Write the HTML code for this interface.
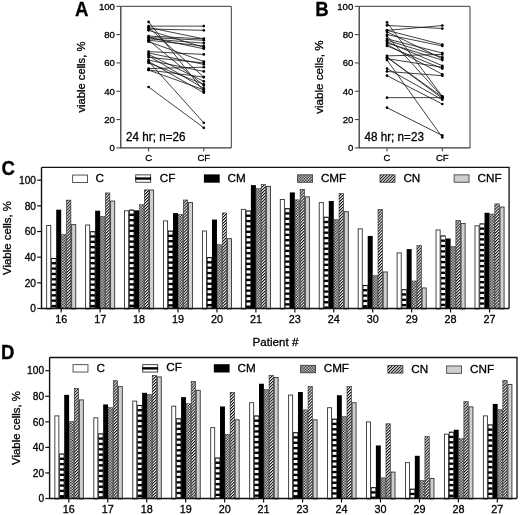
<!DOCTYPE html>
<html><head><meta charset="utf-8"><style>
html,body{margin:0;padding:0;background:#fff;}
body{width:520px;height:515px;overflow:hidden;filter:grayscale(1);font-family:"Liberation Sans", sans-serif;}
svg{display:block;}
text{stroke:#000;stroke-width:0.3px;}
</style></head><body>
<svg width="520" height="515" viewBox="0 0 520 515" font-family='"Liberation Sans", sans-serif' fill="#000">
<defs>
<pattern id="chk" patternUnits="userSpaceOnUse" width="2.7" height="2.7"><rect width="2.7" height="2.7" fill="#000"/><rect x="0" y="0" width="1.4" height="1.4" fill="#fff"/><rect x="1.35" y="1.35" width="1.4" height="1.4" fill="#fff"/></pattern>
<pattern id="hat" patternUnits="userSpaceOnUse" width="2.1" height="2.1" patternTransform="rotate(45)"><rect width="2.1" height="2.1" fill="#fff"/><rect width="1.0" height="2.1" fill="#000"/></pattern>
</defs>
<rect width="520" height="515" fill="#fff"/>
<path d="M120.8 6.3H231.3V147.9" fill="none" stroke="#3a3a3a" stroke-width="1"/>
<path d="M120.8 6.3V147.9H231.3" fill="none" stroke="#3a3a3a" stroke-width="1.3"/>
<line x1="116.4" y1="147.9" x2="120.8" y2="147.9" stroke="#3a3a3a" stroke-width="1"/>
<text x="114.9" y="151.2" text-anchor="end" font-size="9.6">0</text>
<line x1="116.4" y1="119.58" x2="120.8" y2="119.58" stroke="#3a3a3a" stroke-width="1"/>
<text x="114.9" y="122.88" text-anchor="end" font-size="9.6">20</text>
<line x1="116.4" y1="91.26" x2="120.8" y2="91.26" stroke="#3a3a3a" stroke-width="1"/>
<text x="114.9" y="94.56" text-anchor="end" font-size="9.6">40</text>
<line x1="116.4" y1="62.94" x2="120.8" y2="62.94" stroke="#3a3a3a" stroke-width="1"/>
<text x="114.9" y="66.24" text-anchor="end" font-size="9.6">60</text>
<line x1="116.4" y1="34.62" x2="120.8" y2="34.62" stroke="#3a3a3a" stroke-width="1"/>
<text x="114.9" y="37.92" text-anchor="end" font-size="9.6">80</text>
<line x1="116.4" y1="6.3" x2="120.8" y2="6.3" stroke="#3a3a3a" stroke-width="1"/>
<text x="114.9" y="9.6" text-anchor="end" font-size="9.6">100</text>
<line x1="148.6" y1="147.9" x2="148.6" y2="151.4" stroke="#3a3a3a" stroke-width="1"/>
<text x="148.6" y="160.9" text-anchor="middle" font-size="9.5">C</text>
<line x1="203.8" y1="147.9" x2="203.8" y2="151.4" stroke="#3a3a3a" stroke-width="1"/>
<text x="203.8" y="160.9" text-anchor="middle" font-size="9.5">CF</text>
<line x1="148.6" y1="21.88" x2="203.8" y2="91.26" stroke="#111" stroke-width="0.8"/>
<line x1="148.6" y1="26.12" x2="203.8" y2="26.12" stroke="#111" stroke-width="0.8"/>
<line x1="148.6" y1="27.54" x2="203.8" y2="38.87" stroke="#111" stroke-width="0.8"/>
<line x1="148.6" y1="28.96" x2="203.8" y2="30.37" stroke="#111" stroke-width="0.8"/>
<line x1="148.6" y1="30.37" x2="203.8" y2="47.36" stroke="#111" stroke-width="0.8"/>
<line x1="148.6" y1="27.54" x2="203.8" y2="77.1" stroke="#111" stroke-width="0.8"/>
<line x1="148.6" y1="36.04" x2="203.8" y2="38.87" stroke="#111" stroke-width="0.8"/>
<line x1="148.6" y1="37.45" x2="203.8" y2="40.28" stroke="#111" stroke-width="0.8"/>
<line x1="148.6" y1="38.87" x2="203.8" y2="43.12" stroke="#111" stroke-width="0.8"/>
<line x1="148.6" y1="40.28" x2="203.8" y2="45.95" stroke="#111" stroke-width="0.8"/>
<line x1="148.6" y1="40.28" x2="203.8" y2="85.6" stroke="#111" stroke-width="0.8"/>
<line x1="148.6" y1="41.7" x2="203.8" y2="61.52" stroke="#111" stroke-width="0.8"/>
<line x1="148.6" y1="51.61" x2="203.8" y2="54.44" stroke="#111" stroke-width="0.8"/>
<line x1="148.6" y1="53.03" x2="203.8" y2="64.36" stroke="#111" stroke-width="0.8"/>
<line x1="148.6" y1="54.44" x2="203.8" y2="81.35" stroke="#111" stroke-width="0.8"/>
<line x1="148.6" y1="55.86" x2="203.8" y2="88.43" stroke="#111" stroke-width="0.8"/>
<line x1="148.6" y1="57.28" x2="203.8" y2="62.94" stroke="#111" stroke-width="0.8"/>
<line x1="148.6" y1="60.11" x2="203.8" y2="71.44" stroke="#111" stroke-width="0.8"/>
<line x1="148.6" y1="61.52" x2="203.8" y2="92.68" stroke="#111" stroke-width="0.8"/>
<line x1="148.6" y1="61.52" x2="203.8" y2="122.84" stroke="#111" stroke-width="0.8"/>
<line x1="148.6" y1="62.94" x2="203.8" y2="84.18" stroke="#111" stroke-width="0.8"/>
<line x1="148.6" y1="68.6" x2="203.8" y2="67.19" stroke="#111" stroke-width="0.8"/>
<line x1="148.6" y1="70.02" x2="203.8" y2="89.84" stroke="#111" stroke-width="0.8"/>
<line x1="148.6" y1="70.02" x2="203.8" y2="77.1" stroke="#111" stroke-width="0.8"/>
<line x1="148.6" y1="87.01" x2="203.8" y2="127.79" stroke="#111" stroke-width="0.8"/>
<line x1="148.6" y1="37.45" x2="203.8" y2="48.78" stroke="#111" stroke-width="0.8"/>
<circle cx="148.6" cy="21.88" r="1.35" fill="#000"/>
<circle cx="203.8" cy="91.26" r="1.35" fill="#000"/>
<circle cx="148.6" cy="26.12" r="1.35" fill="#000"/>
<circle cx="203.8" cy="26.12" r="1.35" fill="#000"/>
<circle cx="148.6" cy="27.54" r="1.35" fill="#000"/>
<circle cx="203.8" cy="38.87" r="1.35" fill="#000"/>
<circle cx="148.6" cy="28.96" r="1.35" fill="#000"/>
<circle cx="203.8" cy="30.37" r="1.35" fill="#000"/>
<circle cx="148.6" cy="30.37" r="1.35" fill="#000"/>
<circle cx="203.8" cy="47.36" r="1.35" fill="#000"/>
<circle cx="148.6" cy="27.54" r="1.35" fill="#000"/>
<circle cx="203.8" cy="77.1" r="1.35" fill="#000"/>
<circle cx="148.6" cy="36.04" r="1.35" fill="#000"/>
<circle cx="203.8" cy="38.87" r="1.35" fill="#000"/>
<circle cx="148.6" cy="37.45" r="1.35" fill="#000"/>
<circle cx="203.8" cy="40.28" r="1.35" fill="#000"/>
<circle cx="148.6" cy="38.87" r="1.35" fill="#000"/>
<circle cx="203.8" cy="43.12" r="1.35" fill="#000"/>
<circle cx="148.6" cy="40.28" r="1.35" fill="#000"/>
<circle cx="203.8" cy="45.95" r="1.35" fill="#000"/>
<circle cx="148.6" cy="40.28" r="1.35" fill="#000"/>
<circle cx="203.8" cy="85.6" r="1.35" fill="#000"/>
<circle cx="148.6" cy="41.7" r="1.35" fill="#000"/>
<circle cx="203.8" cy="61.52" r="1.35" fill="#000"/>
<circle cx="148.6" cy="51.61" r="1.35" fill="#000"/>
<circle cx="203.8" cy="54.44" r="1.35" fill="#000"/>
<circle cx="148.6" cy="53.03" r="1.35" fill="#000"/>
<circle cx="203.8" cy="64.36" r="1.35" fill="#000"/>
<circle cx="148.6" cy="54.44" r="1.35" fill="#000"/>
<circle cx="203.8" cy="81.35" r="1.35" fill="#000"/>
<circle cx="148.6" cy="55.86" r="1.35" fill="#000"/>
<circle cx="203.8" cy="88.43" r="1.35" fill="#000"/>
<circle cx="148.6" cy="57.28" r="1.35" fill="#000"/>
<circle cx="203.8" cy="62.94" r="1.35" fill="#000"/>
<circle cx="148.6" cy="60.11" r="1.35" fill="#000"/>
<circle cx="203.8" cy="71.44" r="1.35" fill="#000"/>
<circle cx="148.6" cy="61.52" r="1.35" fill="#000"/>
<circle cx="203.8" cy="92.68" r="1.35" fill="#000"/>
<circle cx="148.6" cy="61.52" r="1.35" fill="#000"/>
<circle cx="203.8" cy="122.84" r="1.35" fill="#000"/>
<circle cx="148.6" cy="62.94" r="1.35" fill="#000"/>
<circle cx="203.8" cy="84.18" r="1.35" fill="#000"/>
<circle cx="148.6" cy="68.6" r="1.35" fill="#000"/>
<circle cx="203.8" cy="67.19" r="1.35" fill="#000"/>
<circle cx="148.6" cy="70.02" r="1.35" fill="#000"/>
<circle cx="203.8" cy="89.84" r="1.35" fill="#000"/>
<circle cx="148.6" cy="70.02" r="1.35" fill="#000"/>
<circle cx="203.8" cy="77.1" r="1.35" fill="#000"/>
<circle cx="148.6" cy="87.01" r="1.35" fill="#000"/>
<circle cx="203.8" cy="127.79" r="1.35" fill="#000"/>
<circle cx="148.6" cy="37.45" r="1.35" fill="#000"/>
<circle cx="203.8" cy="48.78" r="1.35" fill="#000"/>
<text transform="translate(126.1 140.9) scale(0.95 1)" font-size="12.3">24 hr; n=26</text>
<text transform="translate(85.4 77.1) rotate(-90)" text-anchor="middle" font-size="11.2">viable cells, %</text>
<text transform="translate(75.1 16.4) scale(0.93 1)" font-size="20" font-weight="bold">A</text>
<path d="M359.2 6.3H470V147.9" fill="none" stroke="#3a3a3a" stroke-width="1"/>
<path d="M359.2 6.3V147.9H470" fill="none" stroke="#3a3a3a" stroke-width="1.3"/>
<line x1="354.8" y1="147.9" x2="359.2" y2="147.9" stroke="#3a3a3a" stroke-width="1"/>
<text x="353.3" y="151.2" text-anchor="end" font-size="9.6">0</text>
<line x1="354.8" y1="119.58" x2="359.2" y2="119.58" stroke="#3a3a3a" stroke-width="1"/>
<text x="353.3" y="122.88" text-anchor="end" font-size="9.6">20</text>
<line x1="354.8" y1="91.26" x2="359.2" y2="91.26" stroke="#3a3a3a" stroke-width="1"/>
<text x="353.3" y="94.56" text-anchor="end" font-size="9.6">40</text>
<line x1="354.8" y1="62.94" x2="359.2" y2="62.94" stroke="#3a3a3a" stroke-width="1"/>
<text x="353.3" y="66.24" text-anchor="end" font-size="9.6">60</text>
<line x1="354.8" y1="34.62" x2="359.2" y2="34.62" stroke="#3a3a3a" stroke-width="1"/>
<text x="353.3" y="37.92" text-anchor="end" font-size="9.6">80</text>
<line x1="354.8" y1="6.3" x2="359.2" y2="6.3" stroke="#3a3a3a" stroke-width="1"/>
<text x="353.3" y="9.6" text-anchor="end" font-size="9.6">100</text>
<line x1="387" y1="147.9" x2="387" y2="151.4" stroke="#3a3a3a" stroke-width="1"/>
<text x="387" y="160.9" text-anchor="middle" font-size="9.5">C</text>
<line x1="442.3" y1="147.9" x2="442.3" y2="151.4" stroke="#3a3a3a" stroke-width="1"/>
<text x="442.3" y="160.9" text-anchor="middle" font-size="9.5">CF</text>
<line x1="387" y1="22.44" x2="442.3" y2="96.36" stroke="#111" stroke-width="0.8"/>
<line x1="387" y1="25.42" x2="442.3" y2="28.53" stroke="#111" stroke-width="0.8"/>
<line x1="387" y1="30.37" x2="442.3" y2="25.56" stroke="#111" stroke-width="0.8"/>
<line x1="387" y1="30.37" x2="442.3" y2="44.53" stroke="#111" stroke-width="0.8"/>
<line x1="387" y1="31.79" x2="442.3" y2="58.69" stroke="#111" stroke-width="0.8"/>
<line x1="387" y1="34.62" x2="442.3" y2="45.95" stroke="#111" stroke-width="0.8"/>
<line x1="387" y1="36.04" x2="442.3" y2="96.92" stroke="#111" stroke-width="0.8"/>
<line x1="387" y1="38.87" x2="442.3" y2="53.03" stroke="#111" stroke-width="0.8"/>
<line x1="387" y1="40.28" x2="442.3" y2="57.28" stroke="#111" stroke-width="0.8"/>
<line x1="387" y1="41.7" x2="442.3" y2="65.77" stroke="#111" stroke-width="0.8"/>
<line x1="387" y1="43.12" x2="442.3" y2="60.11" stroke="#111" stroke-width="0.8"/>
<line x1="387" y1="44.53" x2="442.3" y2="74.27" stroke="#111" stroke-width="0.8"/>
<line x1="387" y1="45.95" x2="442.3" y2="68.6" stroke="#111" stroke-width="0.8"/>
<line x1="387" y1="55.86" x2="442.3" y2="54.44" stroke="#111" stroke-width="0.8"/>
<line x1="387" y1="57.28" x2="442.3" y2="96.92" stroke="#111" stroke-width="0.8"/>
<line x1="387" y1="57.28" x2="442.3" y2="98.34" stroke="#111" stroke-width="0.8"/>
<line x1="387" y1="58.69" x2="442.3" y2="67.19" stroke="#111" stroke-width="0.8"/>
<line x1="387" y1="60.11" x2="442.3" y2="137.28" stroke="#111" stroke-width="0.8"/>
<line x1="387" y1="68.6" x2="442.3" y2="99.76" stroke="#111" stroke-width="0.8"/>
<line x1="387" y1="71.44" x2="442.3" y2="75.68" stroke="#111" stroke-width="0.8"/>
<line x1="387" y1="75.68" x2="442.3" y2="104" stroke="#111" stroke-width="0.8"/>
<line x1="387" y1="97.63" x2="442.3" y2="97.63" stroke="#111" stroke-width="0.8"/>
<line x1="387" y1="107.69" x2="442.3" y2="135.44" stroke="#111" stroke-width="0.8"/>
<circle cx="387" cy="22.44" r="1.35" fill="#000"/>
<circle cx="442.3" cy="96.36" r="1.35" fill="#000"/>
<circle cx="387" cy="25.42" r="1.35" fill="#000"/>
<circle cx="442.3" cy="28.53" r="1.35" fill="#000"/>
<circle cx="387" cy="30.37" r="1.35" fill="#000"/>
<circle cx="442.3" cy="25.56" r="1.35" fill="#000"/>
<circle cx="387" cy="30.37" r="1.35" fill="#000"/>
<circle cx="442.3" cy="44.53" r="1.35" fill="#000"/>
<circle cx="387" cy="31.79" r="1.35" fill="#000"/>
<circle cx="442.3" cy="58.69" r="1.35" fill="#000"/>
<circle cx="387" cy="34.62" r="1.35" fill="#000"/>
<circle cx="442.3" cy="45.95" r="1.35" fill="#000"/>
<circle cx="387" cy="36.04" r="1.35" fill="#000"/>
<circle cx="442.3" cy="96.92" r="1.35" fill="#000"/>
<circle cx="387" cy="38.87" r="1.35" fill="#000"/>
<circle cx="442.3" cy="53.03" r="1.35" fill="#000"/>
<circle cx="387" cy="40.28" r="1.35" fill="#000"/>
<circle cx="442.3" cy="57.28" r="1.35" fill="#000"/>
<circle cx="387" cy="41.7" r="1.35" fill="#000"/>
<circle cx="442.3" cy="65.77" r="1.35" fill="#000"/>
<circle cx="387" cy="43.12" r="1.35" fill="#000"/>
<circle cx="442.3" cy="60.11" r="1.35" fill="#000"/>
<circle cx="387" cy="44.53" r="1.35" fill="#000"/>
<circle cx="442.3" cy="74.27" r="1.35" fill="#000"/>
<circle cx="387" cy="45.95" r="1.35" fill="#000"/>
<circle cx="442.3" cy="68.6" r="1.35" fill="#000"/>
<circle cx="387" cy="55.86" r="1.35" fill="#000"/>
<circle cx="442.3" cy="54.44" r="1.35" fill="#000"/>
<circle cx="387" cy="57.28" r="1.35" fill="#000"/>
<circle cx="442.3" cy="96.92" r="1.35" fill="#000"/>
<circle cx="387" cy="57.28" r="1.35" fill="#000"/>
<circle cx="442.3" cy="98.34" r="1.35" fill="#000"/>
<circle cx="387" cy="58.69" r="1.35" fill="#000"/>
<circle cx="442.3" cy="67.19" r="1.35" fill="#000"/>
<circle cx="387" cy="60.11" r="1.35" fill="#000"/>
<circle cx="442.3" cy="137.28" r="1.35" fill="#000"/>
<circle cx="387" cy="68.6" r="1.35" fill="#000"/>
<circle cx="442.3" cy="99.76" r="1.35" fill="#000"/>
<circle cx="387" cy="71.44" r="1.35" fill="#000"/>
<circle cx="442.3" cy="75.68" r="1.35" fill="#000"/>
<circle cx="387" cy="75.68" r="1.35" fill="#000"/>
<circle cx="442.3" cy="104" r="1.35" fill="#000"/>
<circle cx="387" cy="97.63" r="1.35" fill="#000"/>
<circle cx="442.3" cy="97.63" r="1.35" fill="#000"/>
<circle cx="387" cy="107.69" r="1.35" fill="#000"/>
<circle cx="442.3" cy="135.44" r="1.35" fill="#000"/>
<text transform="translate(364.5 140.9) scale(0.95 1)" font-size="12.3">48 hr; n=23</text>
<text transform="translate(323.4 77.1) rotate(-90)" text-anchor="middle" font-size="11.6">viable cells, %</text>
<text transform="translate(315.3 15.9) scale(0.93 1)" font-size="20" font-weight="bold">B</text>
<rect x="46.65" y="225.51" width="4.1" height="83.44" fill="#fff" stroke="#333" stroke-width="0.9"/>
<rect x="51.2" y="257.95" width="5" height="50.55" fill="#000"/>
<rect x="51.85" y="259.05" width="3.85" height="3" fill="#fff"/>
<rect x="51.85" y="264.4" width="3.85" height="3" fill="#fff"/>
<rect x="51.85" y="269.75" width="3.85" height="3" fill="#fff"/>
<rect x="51.85" y="275.1" width="3.85" height="3" fill="#fff"/>
<rect x="51.85" y="280.45" width="3.85" height="3" fill="#fff"/>
<rect x="51.85" y="285.8" width="3.85" height="3" fill="#fff"/>
<rect x="51.85" y="291.15" width="3.85" height="3" fill="#fff"/>
<rect x="51.85" y="296.5" width="3.85" height="3" fill="#fff"/>
<rect x="51.85" y="301.85" width="3.85" height="3" fill="#fff"/>
<rect x="51.85" y="307.2" width="3.85" height="0.5" fill="#fff"/>
<rect x="56.2" y="209.7" width="5" height="98.8" fill="#000"/>
<rect x="61.45" y="234.52" width="4.5" height="74.23" fill="url(#chk)" stroke="#333" stroke-width="0.5"/>
<rect x="66.5" y="200.14" width="4.4" height="108.66" fill="url(#hat)" stroke="#222" stroke-width="0.6"/>
<rect x="71.65" y="224.61" width="4.1" height="84.34" fill="#cfcfcf" stroke="#333" stroke-width="0.9"/>
<rect x="85.59" y="224.99" width="4.1" height="83.96" fill="#fff" stroke="#333" stroke-width="0.9"/>
<rect x="90.14" y="231.2" width="5" height="77.3" fill="#000"/>
<rect x="90.79" y="232.3" width="3.85" height="3" fill="#fff"/>
<rect x="90.79" y="237.65" width="3.85" height="3" fill="#fff"/>
<rect x="90.79" y="243" width="3.85" height="3" fill="#fff"/>
<rect x="90.79" y="248.35" width="3.85" height="3" fill="#fff"/>
<rect x="90.79" y="253.7" width="3.85" height="3" fill="#fff"/>
<rect x="90.79" y="259.05" width="3.85" height="3" fill="#fff"/>
<rect x="90.79" y="264.4" width="3.85" height="3" fill="#fff"/>
<rect x="90.79" y="269.75" width="3.85" height="3" fill="#fff"/>
<rect x="90.79" y="275.1" width="3.85" height="3" fill="#fff"/>
<rect x="90.79" y="280.45" width="3.85" height="3" fill="#fff"/>
<rect x="90.79" y="285.8" width="3.85" height="3" fill="#fff"/>
<rect x="90.79" y="291.15" width="3.85" height="3" fill="#fff"/>
<rect x="90.79" y="296.5" width="3.85" height="3" fill="#fff"/>
<rect x="90.79" y="301.85" width="3.85" height="3" fill="#fff"/>
<rect x="90.79" y="307.2" width="3.85" height="0.5" fill="#fff"/>
<rect x="95.14" y="210.72" width="5" height="97.78" fill="#000"/>
<rect x="100.39" y="216.35" width="4.5" height="92.4" fill="url(#chk)" stroke="#333" stroke-width="0.5"/>
<rect x="105.44" y="192.97" width="4.4" height="115.83" fill="url(#hat)" stroke="#222" stroke-width="0.6"/>
<rect x="110.59" y="201.06" width="4.1" height="107.89" fill="#cfcfcf" stroke="#333" stroke-width="0.9"/>
<rect x="124.53" y="210.79" width="4.1" height="98.16" fill="#fff" stroke="#333" stroke-width="0.9"/>
<rect x="129.08" y="209.57" width="5" height="98.93" fill="#000"/>
<rect x="129.73" y="210.67" width="3.85" height="3" fill="#fff"/>
<rect x="129.73" y="216.02" width="3.85" height="3" fill="#fff"/>
<rect x="129.73" y="221.37" width="3.85" height="3" fill="#fff"/>
<rect x="129.73" y="226.72" width="3.85" height="3" fill="#fff"/>
<rect x="129.73" y="232.07" width="3.85" height="3" fill="#fff"/>
<rect x="129.73" y="237.42" width="3.85" height="3" fill="#fff"/>
<rect x="129.73" y="242.77" width="3.85" height="3" fill="#fff"/>
<rect x="129.73" y="248.12" width="3.85" height="3" fill="#fff"/>
<rect x="129.73" y="253.47" width="3.85" height="3" fill="#fff"/>
<rect x="129.73" y="258.82" width="3.85" height="3" fill="#fff"/>
<rect x="129.73" y="264.17" width="3.85" height="3" fill="#fff"/>
<rect x="129.73" y="269.52" width="3.85" height="3" fill="#fff"/>
<rect x="129.73" y="274.87" width="3.85" height="3" fill="#fff"/>
<rect x="129.73" y="280.22" width="3.85" height="3" fill="#fff"/>
<rect x="129.73" y="285.57" width="3.85" height="3" fill="#fff"/>
<rect x="129.73" y="290.92" width="3.85" height="3" fill="#fff"/>
<rect x="129.73" y="296.27" width="3.85" height="3" fill="#fff"/>
<rect x="129.73" y="301.62" width="3.85" height="3" fill="#fff"/>
<rect x="129.73" y="306.97" width="3.85" height="0.73" fill="#fff"/>
<rect x="134.08" y="210.34" width="5" height="98.16" fill="#000"/>
<rect x="139.33" y="204.7" width="4.5" height="104.05" fill="url(#chk)" stroke="#333" stroke-width="0.5"/>
<rect x="144.38" y="189.9" width="4.4" height="118.9" fill="url(#hat)" stroke="#222" stroke-width="0.6"/>
<rect x="149.53" y="190.05" width="4.1" height="118.9" fill="#cfcfcf" stroke="#333" stroke-width="0.9"/>
<rect x="163.47" y="220.9" width="4.1" height="88.05" fill="#fff" stroke="#333" stroke-width="0.9"/>
<rect x="168.02" y="230.56" width="5" height="77.94" fill="#000"/>
<rect x="168.67" y="231.66" width="3.85" height="3" fill="#fff"/>
<rect x="168.67" y="237.01" width="3.85" height="3" fill="#fff"/>
<rect x="168.67" y="242.36" width="3.85" height="3" fill="#fff"/>
<rect x="168.67" y="247.71" width="3.85" height="3" fill="#fff"/>
<rect x="168.67" y="253.06" width="3.85" height="3" fill="#fff"/>
<rect x="168.67" y="258.41" width="3.85" height="3" fill="#fff"/>
<rect x="168.67" y="263.76" width="3.85" height="3" fill="#fff"/>
<rect x="168.67" y="269.11" width="3.85" height="3" fill="#fff"/>
<rect x="168.67" y="274.46" width="3.85" height="3" fill="#fff"/>
<rect x="168.67" y="279.81" width="3.85" height="3" fill="#fff"/>
<rect x="168.67" y="285.16" width="3.85" height="3" fill="#fff"/>
<rect x="168.67" y="290.51" width="3.85" height="3" fill="#fff"/>
<rect x="168.67" y="295.86" width="3.85" height="3" fill="#fff"/>
<rect x="168.67" y="301.21" width="3.85" height="3" fill="#fff"/>
<rect x="168.67" y="306.56" width="3.85" height="1.14" fill="#fff"/>
<rect x="173.02" y="213.15" width="5" height="95.35" fill="#000"/>
<rect x="178.27" y="214.43" width="4.5" height="94.32" fill="url(#chk)" stroke="#333" stroke-width="0.5"/>
<rect x="183.32" y="200.01" width="4.4" height="108.79" fill="url(#hat)" stroke="#222" stroke-width="0.6"/>
<rect x="188.47" y="202.59" width="4.1" height="106.36" fill="#cfcfcf" stroke="#333" stroke-width="0.9"/>
<rect x="202.41" y="231.01" width="4.1" height="77.94" fill="#fff" stroke="#333" stroke-width="0.9"/>
<rect x="206.96" y="257.06" width="5" height="51.44" fill="#000"/>
<rect x="207.61" y="258.16" width="3.85" height="3" fill="#fff"/>
<rect x="207.61" y="263.51" width="3.85" height="3" fill="#fff"/>
<rect x="207.61" y="268.86" width="3.85" height="3" fill="#fff"/>
<rect x="207.61" y="274.21" width="3.85" height="3" fill="#fff"/>
<rect x="207.61" y="279.56" width="3.85" height="3" fill="#fff"/>
<rect x="207.61" y="284.91" width="3.85" height="3" fill="#fff"/>
<rect x="207.61" y="290.26" width="3.85" height="3" fill="#fff"/>
<rect x="207.61" y="295.61" width="3.85" height="3" fill="#fff"/>
<rect x="207.61" y="300.96" width="3.85" height="3" fill="#fff"/>
<rect x="207.61" y="306.31" width="3.85" height="1.39" fill="#fff"/>
<rect x="211.96" y="219.55" width="5" height="88.95" fill="#000"/>
<rect x="217.21" y="244.51" width="4.5" height="64.24" fill="url(#chk)" stroke="#333" stroke-width="0.5"/>
<rect x="222.26" y="212.94" width="4.4" height="95.86" fill="url(#hat)" stroke="#222" stroke-width="0.6"/>
<rect x="227.41" y="238.69" width="4.1" height="70.26" fill="#cfcfcf" stroke="#333" stroke-width="0.9"/>
<rect x="241.35" y="209.38" width="4.1" height="99.57" fill="#fff" stroke="#333" stroke-width="0.9"/>
<rect x="245.9" y="210.46" width="5" height="98.04" fill="#000"/>
<rect x="246.55" y="211.56" width="3.85" height="3" fill="#fff"/>
<rect x="246.55" y="216.91" width="3.85" height="3" fill="#fff"/>
<rect x="246.55" y="222.26" width="3.85" height="3" fill="#fff"/>
<rect x="246.55" y="227.61" width="3.85" height="3" fill="#fff"/>
<rect x="246.55" y="232.96" width="3.85" height="3" fill="#fff"/>
<rect x="246.55" y="238.31" width="3.85" height="3" fill="#fff"/>
<rect x="246.55" y="243.66" width="3.85" height="3" fill="#fff"/>
<rect x="246.55" y="249.01" width="3.85" height="3" fill="#fff"/>
<rect x="246.55" y="254.36" width="3.85" height="3" fill="#fff"/>
<rect x="246.55" y="259.71" width="3.85" height="3" fill="#fff"/>
<rect x="246.55" y="265.06" width="3.85" height="3" fill="#fff"/>
<rect x="246.55" y="270.41" width="3.85" height="3" fill="#fff"/>
<rect x="246.55" y="275.76" width="3.85" height="3" fill="#fff"/>
<rect x="246.55" y="281.11" width="3.85" height="3" fill="#fff"/>
<rect x="246.55" y="286.46" width="3.85" height="3" fill="#fff"/>
<rect x="246.55" y="291.81" width="3.85" height="3" fill="#fff"/>
<rect x="246.55" y="297.16" width="3.85" height="3" fill="#fff"/>
<rect x="246.55" y="302.51" width="3.85" height="3" fill="#fff"/>
<rect x="250.9" y="185.12" width="5" height="123.38" fill="#000"/>
<rect x="256.15" y="188.44" width="4.5" height="120.31" fill="url(#chk)" stroke="#333" stroke-width="0.5"/>
<rect x="261.2" y="184.65" width="4.4" height="124.15" fill="url(#hat)" stroke="#222" stroke-width="0.6"/>
<rect x="266.35" y="186.34" width="4.1" height="122.61" fill="#cfcfcf" stroke="#333" stroke-width="0.9"/>
<rect x="280.29" y="199.52" width="4.1" height="109.43" fill="#fff" stroke="#333" stroke-width="0.9"/>
<rect x="284.84" y="208.16" width="5" height="100.34" fill="#000"/>
<rect x="285.49" y="209.26" width="3.85" height="3" fill="#fff"/>
<rect x="285.49" y="214.61" width="3.85" height="3" fill="#fff"/>
<rect x="285.49" y="219.96" width="3.85" height="3" fill="#fff"/>
<rect x="285.49" y="225.31" width="3.85" height="3" fill="#fff"/>
<rect x="285.49" y="230.66" width="3.85" height="3" fill="#fff"/>
<rect x="285.49" y="236.01" width="3.85" height="3" fill="#fff"/>
<rect x="285.49" y="241.36" width="3.85" height="3" fill="#fff"/>
<rect x="285.49" y="246.71" width="3.85" height="3" fill="#fff"/>
<rect x="285.49" y="252.06" width="3.85" height="3" fill="#fff"/>
<rect x="285.49" y="257.41" width="3.85" height="3" fill="#fff"/>
<rect x="285.49" y="262.76" width="3.85" height="3" fill="#fff"/>
<rect x="285.49" y="268.11" width="3.85" height="3" fill="#fff"/>
<rect x="285.49" y="273.46" width="3.85" height="3" fill="#fff"/>
<rect x="285.49" y="278.81" width="3.85" height="3" fill="#fff"/>
<rect x="285.49" y="284.16" width="3.85" height="3" fill="#fff"/>
<rect x="285.49" y="289.51" width="3.85" height="3" fill="#fff"/>
<rect x="285.49" y="294.86" width="3.85" height="3" fill="#fff"/>
<rect x="285.49" y="300.21" width="3.85" height="3" fill="#fff"/>
<rect x="285.49" y="305.56" width="3.85" height="2.14" fill="#fff"/>
<rect x="289.84" y="192.42" width="5" height="116.08" fill="#000"/>
<rect x="295.09" y="199.83" width="4.5" height="108.92" fill="url(#chk)" stroke="#333" stroke-width="0.5"/>
<rect x="300.14" y="189.26" width="4.4" height="119.54" fill="url(#hat)" stroke="#222" stroke-width="0.6"/>
<rect x="305.29" y="196.83" width="4.1" height="112.12" fill="#cfcfcf" stroke="#333" stroke-width="0.9"/>
<rect x="319.23" y="202.59" width="4.1" height="106.36" fill="#fff" stroke="#333" stroke-width="0.9"/>
<rect x="323.78" y="216.74" width="5" height="91.76" fill="#000"/>
<rect x="324.43" y="217.84" width="3.85" height="3" fill="#fff"/>
<rect x="324.43" y="223.19" width="3.85" height="3" fill="#fff"/>
<rect x="324.43" y="228.54" width="3.85" height="3" fill="#fff"/>
<rect x="324.43" y="233.89" width="3.85" height="3" fill="#fff"/>
<rect x="324.43" y="239.24" width="3.85" height="3" fill="#fff"/>
<rect x="324.43" y="244.59" width="3.85" height="3" fill="#fff"/>
<rect x="324.43" y="249.94" width="3.85" height="3" fill="#fff"/>
<rect x="324.43" y="255.29" width="3.85" height="3" fill="#fff"/>
<rect x="324.43" y="260.64" width="3.85" height="3" fill="#fff"/>
<rect x="324.43" y="265.99" width="3.85" height="3" fill="#fff"/>
<rect x="324.43" y="271.34" width="3.85" height="3" fill="#fff"/>
<rect x="324.43" y="276.69" width="3.85" height="3" fill="#fff"/>
<rect x="324.43" y="282.04" width="3.85" height="3" fill="#fff"/>
<rect x="324.43" y="287.39" width="3.85" height="3" fill="#fff"/>
<rect x="324.43" y="292.74" width="3.85" height="3" fill="#fff"/>
<rect x="324.43" y="298.09" width="3.85" height="3" fill="#fff"/>
<rect x="324.43" y="303.44" width="3.85" height="3" fill="#fff"/>
<rect x="328.78" y="200.99" width="5" height="107.51" fill="#000"/>
<rect x="334.03" y="219.55" width="4.5" height="89.2" fill="url(#chk)" stroke="#333" stroke-width="0.5"/>
<rect x="339.08" y="193.61" width="4.4" height="115.19" fill="url(#hat)" stroke="#222" stroke-width="0.6"/>
<rect x="344.23" y="211.68" width="4.1" height="97.27" fill="#cfcfcf" stroke="#333" stroke-width="0.9"/>
<rect x="358.17" y="228.83" width="4.1" height="80.12" fill="#fff" stroke="#333" stroke-width="0.9"/>
<rect x="362.72" y="284.96" width="5" height="23.54" fill="#000"/>
<rect x="363.37" y="286.06" width="3.85" height="3" fill="#fff"/>
<rect x="363.37" y="291.41" width="3.85" height="3" fill="#fff"/>
<rect x="363.37" y="296.76" width="3.85" height="3" fill="#fff"/>
<rect x="363.37" y="302.11" width="3.85" height="3" fill="#fff"/>
<rect x="367.72" y="235.94" width="5" height="72.56" fill="#000"/>
<rect x="372.97" y="275.61" width="4.5" height="33.14" fill="url(#chk)" stroke="#333" stroke-width="0.5"/>
<rect x="378.02" y="209.36" width="4.4" height="99.44" fill="url(#hat)" stroke="#222" stroke-width="0.6"/>
<rect x="383.17" y="271.97" width="4.1" height="36.98" fill="#cfcfcf" stroke="#333" stroke-width="0.9"/>
<rect x="397.11" y="252.9" width="4.1" height="56.05" fill="#fff" stroke="#333" stroke-width="0.9"/>
<rect x="401.66" y="289.18" width="5" height="19.32" fill="#000"/>
<rect x="402.31" y="290.28" width="3.85" height="3" fill="#fff"/>
<rect x="402.31" y="295.63" width="3.85" height="3" fill="#fff"/>
<rect x="402.31" y="300.98" width="3.85" height="3" fill="#fff"/>
<rect x="402.31" y="306.33" width="3.85" height="1.37" fill="#fff"/>
<rect x="406.66" y="249.12" width="5" height="59.38" fill="#000"/>
<rect x="411.91" y="280.99" width="4.5" height="27.76" fill="url(#chk)" stroke="#333" stroke-width="0.5"/>
<rect x="416.96" y="245.58" width="4.4" height="63.22" fill="url(#hat)" stroke="#222" stroke-width="0.6"/>
<rect x="422.11" y="287.97" width="4.1" height="20.98" fill="#cfcfcf" stroke="#333" stroke-width="0.9"/>
<rect x="436.05" y="229.99" width="4.1" height="78.96" fill="#fff" stroke="#333" stroke-width="0.9"/>
<rect x="440.6" y="235.42" width="5" height="73.08" fill="#000"/>
<rect x="441.25" y="236.52" width="3.85" height="3" fill="#fff"/>
<rect x="441.25" y="241.87" width="3.85" height="3" fill="#fff"/>
<rect x="441.25" y="247.22" width="3.85" height="3" fill="#fff"/>
<rect x="441.25" y="252.57" width="3.85" height="3" fill="#fff"/>
<rect x="441.25" y="257.92" width="3.85" height="3" fill="#fff"/>
<rect x="441.25" y="263.27" width="3.85" height="3" fill="#fff"/>
<rect x="441.25" y="268.62" width="3.85" height="3" fill="#fff"/>
<rect x="441.25" y="273.97" width="3.85" height="3" fill="#fff"/>
<rect x="441.25" y="279.32" width="3.85" height="3" fill="#fff"/>
<rect x="441.25" y="284.67" width="3.85" height="3" fill="#fff"/>
<rect x="441.25" y="290.02" width="3.85" height="3" fill="#fff"/>
<rect x="441.25" y="295.37" width="3.85" height="3" fill="#fff"/>
<rect x="441.25" y="300.72" width="3.85" height="3" fill="#fff"/>
<rect x="441.25" y="306.07" width="3.85" height="1.63" fill="#fff"/>
<rect x="445.6" y="238.5" width="5" height="70" fill="#000"/>
<rect x="450.85" y="246.3" width="4.5" height="62.45" fill="url(#chk)" stroke="#333" stroke-width="0.5"/>
<rect x="455.9" y="220.62" width="4.4" height="88.18" fill="url(#hat)" stroke="#222" stroke-width="0.6"/>
<rect x="461.05" y="223.46" width="4.1" height="85.49" fill="#cfcfcf" stroke="#333" stroke-width="0.9"/>
<rect x="474.99" y="225.76" width="4.1" height="83.19" fill="#fff" stroke="#333" stroke-width="0.9"/>
<rect x="479.54" y="223.39" width="5" height="85.11" fill="#000"/>
<rect x="480.19" y="224.49" width="3.85" height="3" fill="#fff"/>
<rect x="480.19" y="229.84" width="3.85" height="3" fill="#fff"/>
<rect x="480.19" y="235.19" width="3.85" height="3" fill="#fff"/>
<rect x="480.19" y="240.54" width="3.85" height="3" fill="#fff"/>
<rect x="480.19" y="245.89" width="3.85" height="3" fill="#fff"/>
<rect x="480.19" y="251.24" width="3.85" height="3" fill="#fff"/>
<rect x="480.19" y="256.59" width="3.85" height="3" fill="#fff"/>
<rect x="480.19" y="261.94" width="3.85" height="3" fill="#fff"/>
<rect x="480.19" y="267.29" width="3.85" height="3" fill="#fff"/>
<rect x="480.19" y="272.64" width="3.85" height="3" fill="#fff"/>
<rect x="480.19" y="277.99" width="3.85" height="3" fill="#fff"/>
<rect x="480.19" y="283.34" width="3.85" height="3" fill="#fff"/>
<rect x="480.19" y="288.69" width="3.85" height="3" fill="#fff"/>
<rect x="480.19" y="294.04" width="3.85" height="3" fill="#fff"/>
<rect x="480.19" y="299.39" width="3.85" height="3" fill="#fff"/>
<rect x="480.19" y="304.74" width="3.85" height="2.96" fill="#fff"/>
<rect x="484.54" y="212.77" width="5" height="95.73" fill="#000"/>
<rect x="489.79" y="214.04" width="4.5" height="94.71" fill="url(#chk)" stroke="#333" stroke-width="0.5"/>
<rect x="494.84" y="203.85" width="4.4" height="104.95" fill="url(#hat)" stroke="#222" stroke-width="0.6"/>
<rect x="499.99" y="207.07" width="4.1" height="101.88" fill="#cfcfcf" stroke="#333" stroke-width="0.9"/>
<path d="M41.5 167.4H509.1V308.5" fill="none" stroke="#111" stroke-width="1.3"/>
<path d="M41.5 167.4V308.5H509.1" fill="none" stroke="#111" stroke-width="1.4"/>
<line x1="37.2" y1="308.5" x2="41.5" y2="308.5" stroke="#111" stroke-width="1.2"/>
<text x="36" y="312.2" text-anchor="end" font-size="10.2">0</text>
<line x1="37.2" y1="282.84" x2="41.5" y2="282.84" stroke="#111" stroke-width="1.2"/>
<text x="36" y="286.54" text-anchor="end" font-size="10.2">20</text>
<line x1="37.2" y1="257.18" x2="41.5" y2="257.18" stroke="#111" stroke-width="1.2"/>
<text x="36" y="260.88" text-anchor="end" font-size="10.2">40</text>
<line x1="37.2" y1="231.52" x2="41.5" y2="231.52" stroke="#111" stroke-width="1.2"/>
<text x="36" y="235.22" text-anchor="end" font-size="10.2">60</text>
<line x1="37.2" y1="205.86" x2="41.5" y2="205.86" stroke="#111" stroke-width="1.2"/>
<text x="36" y="209.56" text-anchor="end" font-size="10.2">80</text>
<line x1="37.2" y1="180.2" x2="41.5" y2="180.2" stroke="#111" stroke-width="1.2"/>
<text x="36" y="183.9" text-anchor="end" font-size="10.2">100</text>
<line x1="61.2" y1="308.5" x2="61.2" y2="312.5" stroke="#111" stroke-width="1.2"/>
<text x="61.2" y="322.7" text-anchor="middle" font-size="10.8">16</text>
<line x1="100.14" y1="308.5" x2="100.14" y2="312.5" stroke="#111" stroke-width="1.2"/>
<text x="100.14" y="322.7" text-anchor="middle" font-size="10.8">17</text>
<line x1="139.08" y1="308.5" x2="139.08" y2="312.5" stroke="#111" stroke-width="1.2"/>
<text x="139.08" y="322.7" text-anchor="middle" font-size="10.8">18</text>
<line x1="178.02" y1="308.5" x2="178.02" y2="312.5" stroke="#111" stroke-width="1.2"/>
<text x="178.02" y="322.7" text-anchor="middle" font-size="10.8">19</text>
<line x1="216.96" y1="308.5" x2="216.96" y2="312.5" stroke="#111" stroke-width="1.2"/>
<text x="216.96" y="322.7" text-anchor="middle" font-size="10.8">20</text>
<line x1="255.9" y1="308.5" x2="255.9" y2="312.5" stroke="#111" stroke-width="1.2"/>
<text x="255.9" y="322.7" text-anchor="middle" font-size="10.8">21</text>
<line x1="294.84" y1="308.5" x2="294.84" y2="312.5" stroke="#111" stroke-width="1.2"/>
<text x="294.84" y="322.7" text-anchor="middle" font-size="10.8">23</text>
<line x1="333.78" y1="308.5" x2="333.78" y2="312.5" stroke="#111" stroke-width="1.2"/>
<text x="333.78" y="322.7" text-anchor="middle" font-size="10.8">24</text>
<line x1="372.72" y1="308.5" x2="372.72" y2="312.5" stroke="#111" stroke-width="1.2"/>
<text x="372.72" y="322.7" text-anchor="middle" font-size="10.8">30</text>
<line x1="411.66" y1="308.5" x2="411.66" y2="312.5" stroke="#111" stroke-width="1.2"/>
<text x="411.66" y="322.7" text-anchor="middle" font-size="10.8">29</text>
<line x1="450.6" y1="308.5" x2="450.6" y2="312.5" stroke="#111" stroke-width="1.2"/>
<text x="450.6" y="322.7" text-anchor="middle" font-size="10.8">28</text>
<line x1="489.54" y1="308.5" x2="489.54" y2="312.5" stroke="#111" stroke-width="1.2"/>
<text x="489.54" y="322.7" text-anchor="middle" font-size="10.8">27</text>
<rect x="72.65" y="175.05" width="14.9" height="7.4" fill="#fff" stroke="#444" stroke-width="0.9"/>
<text x="95.6" y="181.6" font-size="11.7">C</text>
<rect x="135.75" y="174.85" width="14.9" height="7.4" fill="#fff" stroke="#333" stroke-width="0.9"/>
<rect x="135.3" y="177.35" width="15.8" height="2.4" fill="#000"/>
<text x="159.7" y="181.6" font-size="11.7">CF</text>
<rect x="203.9" y="174.4" width="15.8" height="8.3" fill="#000"/>
<text x="227.6" y="181.6" font-size="11.7">CM</text>
<rect x="297.6" y="174.8" width="15" height="7.5" fill="url(#chk)" stroke="#333" stroke-width="0.8"/>
<text x="320.9" y="181.7" font-size="11.7">CMF</text>
<rect x="380" y="174.8" width="15" height="7.5" fill="url(#hat)" stroke="#333" stroke-width="0.8"/>
<text x="403.4" y="181.8" font-size="11.7">CN</text>
<rect x="454.15" y="174.85" width="14.9" height="7.4" fill="#cfcfcf" stroke="#444" stroke-width="0.9"/>
<text x="477.6" y="181.8" font-size="11.7">CNF</text>
<text transform="translate(11 237.95) rotate(-90)" text-anchor="middle" font-size="11.4">Viable cells, %</text>
<text transform="translate(1.4 174.6) scale(0.93 1)" font-size="20" font-weight="bold">C</text>
<rect x="54.85" y="415.88" width="4" height="83.07" fill="#fff" stroke="#333" stroke-width="0.9"/>
<rect x="59.3" y="453.51" width="4.9" height="44.99" fill="#000"/>
<rect x="59.95" y="454.61" width="3.75" height="3" fill="#fff"/>
<rect x="59.95" y="459.96" width="3.75" height="3" fill="#fff"/>
<rect x="59.95" y="465.31" width="3.75" height="3" fill="#fff"/>
<rect x="59.95" y="470.66" width="3.75" height="3" fill="#fff"/>
<rect x="59.95" y="476.01" width="3.75" height="3" fill="#fff"/>
<rect x="59.95" y="481.36" width="3.75" height="3" fill="#fff"/>
<rect x="59.95" y="486.71" width="3.75" height="3" fill="#fff"/>
<rect x="59.95" y="492.06" width="3.75" height="3" fill="#fff"/>
<rect x="64.2" y="394.85" width="4.9" height="103.65" fill="#000"/>
<rect x="69.35" y="421.43" width="4.4" height="77.32" fill="url(#chk)" stroke="#333" stroke-width="0.5"/>
<rect x="74.3" y="388.51" width="4.3" height="110.29" fill="url(#hat)" stroke="#222" stroke-width="0.6"/>
<rect x="79.35" y="399.9" width="4" height="99.05" fill="#cfcfcf" stroke="#333" stroke-width="0.9"/>
<rect x="93.81" y="417.8" width="4" height="81.15" fill="#fff" stroke="#333" stroke-width="0.9"/>
<rect x="98.26" y="433.32" width="4.9" height="65.18" fill="#000"/>
<rect x="98.91" y="434.42" width="3.75" height="3" fill="#fff"/>
<rect x="98.91" y="439.77" width="3.75" height="3" fill="#fff"/>
<rect x="98.91" y="445.12" width="3.75" height="3" fill="#fff"/>
<rect x="98.91" y="450.47" width="3.75" height="3" fill="#fff"/>
<rect x="98.91" y="455.82" width="3.75" height="3" fill="#fff"/>
<rect x="98.91" y="461.17" width="3.75" height="3" fill="#fff"/>
<rect x="98.91" y="466.52" width="3.75" height="3" fill="#fff"/>
<rect x="98.91" y="471.87" width="3.75" height="3" fill="#fff"/>
<rect x="98.91" y="477.22" width="3.75" height="3" fill="#fff"/>
<rect x="98.91" y="482.57" width="3.75" height="3" fill="#fff"/>
<rect x="98.91" y="487.92" width="3.75" height="3" fill="#fff"/>
<rect x="98.91" y="493.27" width="3.75" height="3" fill="#fff"/>
<rect x="103.16" y="404.44" width="4.9" height="94.06" fill="#000"/>
<rect x="108.31" y="407.5" width="4.4" height="91.25" fill="url(#chk)" stroke="#333" stroke-width="0.5"/>
<rect x="113.26" y="380.71" width="4.3" height="118.09" fill="url(#hat)" stroke="#222" stroke-width="0.6"/>
<rect x="118.31" y="386.61" width="4" height="112.34" fill="#cfcfcf" stroke="#333" stroke-width="0.9"/>
<rect x="132.77" y="401.06" width="4" height="97.89" fill="#fff" stroke="#333" stroke-width="0.9"/>
<rect x="137.22" y="404.95" width="4.9" height="93.55" fill="#000"/>
<rect x="137.87" y="406.05" width="3.75" height="3" fill="#fff"/>
<rect x="137.87" y="411.4" width="3.75" height="3" fill="#fff"/>
<rect x="137.87" y="416.75" width="3.75" height="3" fill="#fff"/>
<rect x="137.87" y="422.1" width="3.75" height="3" fill="#fff"/>
<rect x="137.87" y="427.45" width="3.75" height="3" fill="#fff"/>
<rect x="137.87" y="432.8" width="3.75" height="3" fill="#fff"/>
<rect x="137.87" y="438.15" width="3.75" height="3" fill="#fff"/>
<rect x="137.87" y="443.5" width="3.75" height="3" fill="#fff"/>
<rect x="137.87" y="448.85" width="3.75" height="3" fill="#fff"/>
<rect x="137.87" y="454.2" width="3.75" height="3" fill="#fff"/>
<rect x="137.87" y="459.55" width="3.75" height="3" fill="#fff"/>
<rect x="137.87" y="464.9" width="3.75" height="3" fill="#fff"/>
<rect x="137.87" y="470.25" width="3.75" height="3" fill="#fff"/>
<rect x="137.87" y="475.6" width="3.75" height="3" fill="#fff"/>
<rect x="137.87" y="480.95" width="3.75" height="3" fill="#fff"/>
<rect x="137.87" y="486.3" width="3.75" height="3" fill="#fff"/>
<rect x="137.87" y="491.65" width="3.75" height="3" fill="#fff"/>
<rect x="137.87" y="497" width="3.75" height="0.7" fill="#fff"/>
<rect x="142.12" y="392.81" width="4.9" height="105.69" fill="#000"/>
<rect x="147.27" y="394.34" width="4.4" height="104.41" fill="url(#chk)" stroke="#333" stroke-width="0.5"/>
<rect x="152.22" y="375.47" width="4.3" height="123.33" fill="url(#hat)" stroke="#222" stroke-width="0.6"/>
<rect x="157.27" y="376.9" width="4" height="122.05" fill="#cfcfcf" stroke="#333" stroke-width="0.9"/>
<rect x="171.73" y="406.17" width="4" height="92.78" fill="#fff" stroke="#333" stroke-width="0.9"/>
<rect x="176.18" y="418.24" width="4.9" height="80.26" fill="#000"/>
<rect x="176.83" y="419.34" width="3.75" height="3" fill="#fff"/>
<rect x="176.83" y="424.69" width="3.75" height="3" fill="#fff"/>
<rect x="176.83" y="430.04" width="3.75" height="3" fill="#fff"/>
<rect x="176.83" y="435.39" width="3.75" height="3" fill="#fff"/>
<rect x="176.83" y="440.74" width="3.75" height="3" fill="#fff"/>
<rect x="176.83" y="446.09" width="3.75" height="3" fill="#fff"/>
<rect x="176.83" y="451.44" width="3.75" height="3" fill="#fff"/>
<rect x="176.83" y="456.79" width="3.75" height="3" fill="#fff"/>
<rect x="176.83" y="462.14" width="3.75" height="3" fill="#fff"/>
<rect x="176.83" y="467.49" width="3.75" height="3" fill="#fff"/>
<rect x="176.83" y="472.84" width="3.75" height="3" fill="#fff"/>
<rect x="176.83" y="478.19" width="3.75" height="3" fill="#fff"/>
<rect x="176.83" y="483.54" width="3.75" height="3" fill="#fff"/>
<rect x="176.83" y="488.89" width="3.75" height="3" fill="#fff"/>
<rect x="176.83" y="494.24" width="3.75" height="3" fill="#fff"/>
<rect x="181.08" y="397.15" width="4.9" height="101.35" fill="#000"/>
<rect x="186.23" y="403.67" width="4.4" height="95.08" fill="url(#chk)" stroke="#333" stroke-width="0.5"/>
<rect x="191.18" y="381.48" width="4.3" height="117.32" fill="url(#hat)" stroke="#222" stroke-width="0.6"/>
<rect x="196.23" y="390.32" width="4" height="108.63" fill="#cfcfcf" stroke="#333" stroke-width="0.9"/>
<rect x="210.69" y="427.64" width="4" height="71.31" fill="#fff" stroke="#333" stroke-width="0.9"/>
<rect x="215.14" y="457.48" width="4.9" height="41.02" fill="#000"/>
<rect x="215.79" y="458.58" width="3.75" height="3" fill="#fff"/>
<rect x="215.79" y="463.93" width="3.75" height="3" fill="#fff"/>
<rect x="215.79" y="469.28" width="3.75" height="3" fill="#fff"/>
<rect x="215.79" y="474.63" width="3.75" height="3" fill="#fff"/>
<rect x="215.79" y="479.98" width="3.75" height="3" fill="#fff"/>
<rect x="215.79" y="485.33" width="3.75" height="3" fill="#fff"/>
<rect x="215.79" y="490.68" width="3.75" height="3" fill="#fff"/>
<rect x="215.79" y="496.03" width="3.75" height="1.67" fill="#fff"/>
<rect x="220.04" y="406.48" width="4.9" height="92.02" fill="#000"/>
<rect x="225.19" y="434.21" width="4.4" height="64.54" fill="url(#chk)" stroke="#333" stroke-width="0.5"/>
<rect x="230.14" y="392.34" width="4.3" height="106.46" fill="url(#hat)" stroke="#222" stroke-width="0.6"/>
<rect x="235.19" y="419.84" width="4" height="79.11" fill="#cfcfcf" stroke="#333" stroke-width="0.9"/>
<rect x="249.65" y="402.72" width="4" height="96.23" fill="#fff" stroke="#333" stroke-width="0.9"/>
<rect x="254.1" y="415.43" width="4.9" height="83.07" fill="#000"/>
<rect x="254.75" y="416.53" width="3.75" height="3" fill="#fff"/>
<rect x="254.75" y="421.88" width="3.75" height="3" fill="#fff"/>
<rect x="254.75" y="427.23" width="3.75" height="3" fill="#fff"/>
<rect x="254.75" y="432.58" width="3.75" height="3" fill="#fff"/>
<rect x="254.75" y="437.93" width="3.75" height="3" fill="#fff"/>
<rect x="254.75" y="443.28" width="3.75" height="3" fill="#fff"/>
<rect x="254.75" y="448.63" width="3.75" height="3" fill="#fff"/>
<rect x="254.75" y="453.98" width="3.75" height="3" fill="#fff"/>
<rect x="254.75" y="459.33" width="3.75" height="3" fill="#fff"/>
<rect x="254.75" y="464.68" width="3.75" height="3" fill="#fff"/>
<rect x="254.75" y="470.03" width="3.75" height="3" fill="#fff"/>
<rect x="254.75" y="475.38" width="3.75" height="3" fill="#fff"/>
<rect x="254.75" y="480.73" width="3.75" height="3" fill="#fff"/>
<rect x="254.75" y="486.08" width="3.75" height="3" fill="#fff"/>
<rect x="254.75" y="491.43" width="3.75" height="3" fill="#fff"/>
<rect x="254.75" y="496.78" width="3.75" height="0.92" fill="#fff"/>
<rect x="259" y="383.74" width="4.9" height="114.76" fill="#000"/>
<rect x="264.15" y="389.35" width="4.4" height="109.4" fill="url(#chk)" stroke="#333" stroke-width="0.5"/>
<rect x="269.1" y="375.47" width="4.3" height="123.33" fill="url(#hat)" stroke="#222" stroke-width="0.6"/>
<rect x="274.15" y="377.41" width="4" height="121.54" fill="#cfcfcf" stroke="#333" stroke-width="0.9"/>
<rect x="288.61" y="395.05" width="4" height="103.9" fill="#fff" stroke="#333" stroke-width="0.9"/>
<rect x="293.06" y="432.17" width="4.9" height="66.33" fill="#000"/>
<rect x="293.71" y="433.27" width="3.75" height="3" fill="#fff"/>
<rect x="293.71" y="438.62" width="3.75" height="3" fill="#fff"/>
<rect x="293.71" y="443.97" width="3.75" height="3" fill="#fff"/>
<rect x="293.71" y="449.32" width="3.75" height="3" fill="#fff"/>
<rect x="293.71" y="454.67" width="3.75" height="3" fill="#fff"/>
<rect x="293.71" y="460.02" width="3.75" height="3" fill="#fff"/>
<rect x="293.71" y="465.37" width="3.75" height="3" fill="#fff"/>
<rect x="293.71" y="470.72" width="3.75" height="3" fill="#fff"/>
<rect x="293.71" y="476.07" width="3.75" height="3" fill="#fff"/>
<rect x="293.71" y="481.42" width="3.75" height="3" fill="#fff"/>
<rect x="293.71" y="486.77" width="3.75" height="3" fill="#fff"/>
<rect x="293.71" y="492.12" width="3.75" height="3" fill="#fff"/>
<rect x="297.96" y="392.04" width="4.9" height="106.46" fill="#000"/>
<rect x="303.11" y="409.8" width="4.4" height="88.95" fill="url(#chk)" stroke="#333" stroke-width="0.5"/>
<rect x="308.06" y="386.59" width="4.3" height="112.21" fill="url(#hat)" stroke="#222" stroke-width="0.6"/>
<rect x="313.11" y="419.84" width="4" height="79.11" fill="#cfcfcf" stroke="#333" stroke-width="0.9"/>
<rect x="327.57" y="407.7" width="4" height="91.25" fill="#fff" stroke="#333" stroke-width="0.9"/>
<rect x="332.02" y="418.62" width="4.9" height="79.88" fill="#000"/>
<rect x="332.67" y="419.73" width="3.75" height="3" fill="#fff"/>
<rect x="332.67" y="425.08" width="3.75" height="3" fill="#fff"/>
<rect x="332.67" y="430.43" width="3.75" height="3" fill="#fff"/>
<rect x="332.67" y="435.78" width="3.75" height="3" fill="#fff"/>
<rect x="332.67" y="441.13" width="3.75" height="3" fill="#fff"/>
<rect x="332.67" y="446.48" width="3.75" height="3" fill="#fff"/>
<rect x="332.67" y="451.83" width="3.75" height="3" fill="#fff"/>
<rect x="332.67" y="457.18" width="3.75" height="3" fill="#fff"/>
<rect x="332.67" y="462.53" width="3.75" height="3" fill="#fff"/>
<rect x="332.67" y="467.88" width="3.75" height="3" fill="#fff"/>
<rect x="332.67" y="473.23" width="3.75" height="3" fill="#fff"/>
<rect x="332.67" y="478.58" width="3.75" height="3" fill="#fff"/>
<rect x="332.67" y="483.93" width="3.75" height="3" fill="#fff"/>
<rect x="332.67" y="489.28" width="3.75" height="3" fill="#fff"/>
<rect x="332.67" y="494.63" width="3.75" height="3" fill="#fff"/>
<rect x="336.92" y="395.24" width="4.9" height="103.26" fill="#000"/>
<rect x="342.07" y="416.45" width="4.4" height="82.3" fill="url(#chk)" stroke="#333" stroke-width="0.5"/>
<rect x="347.02" y="386.59" width="4.3" height="112.21" fill="url(#hat)" stroke="#222" stroke-width="0.6"/>
<rect x="352.07" y="402.72" width="4" height="96.23" fill="#cfcfcf" stroke="#333" stroke-width="0.9"/>
<rect x="366.53" y="421.89" width="4" height="77.06" fill="#fff" stroke="#333" stroke-width="0.9"/>
<rect x="370.98" y="487.13" width="4.9" height="11.37" fill="#000"/>
<rect x="371.63" y="488.23" width="3.75" height="3" fill="#fff"/>
<rect x="371.63" y="493.58" width="3.75" height="3" fill="#fff"/>
<rect x="375.88" y="445.46" width="4.9" height="53.04" fill="#000"/>
<rect x="381.03" y="477.79" width="4.4" height="20.96" fill="url(#chk)" stroke="#333" stroke-width="0.5"/>
<rect x="385.98" y="423.78" width="4.3" height="75.02" fill="url(#hat)" stroke="#222" stroke-width="0.6"/>
<rect x="391.03" y="472.11" width="4" height="26.84" fill="#cfcfcf" stroke="#333" stroke-width="0.9"/>
<rect x="405.49" y="462.65" width="4" height="36.3" fill="#fff" stroke="#333" stroke-width="0.9"/>
<rect x="409.94" y="488.66" width="4.9" height="9.84" fill="#000"/>
<rect x="410.59" y="489.76" width="3.75" height="3" fill="#fff"/>
<rect x="410.59" y="495.11" width="3.75" height="2.59" fill="#fff"/>
<rect x="414.84" y="455.81" width="4.9" height="42.69" fill="#000"/>
<rect x="419.99" y="480.35" width="4.4" height="18.4" fill="url(#chk)" stroke="#333" stroke-width="0.5"/>
<rect x="424.94" y="436.56" width="4.3" height="62.24" fill="url(#hat)" stroke="#222" stroke-width="0.6"/>
<rect x="429.99" y="478.5" width="4" height="20.45" fill="#cfcfcf" stroke="#333" stroke-width="0.9"/>
<rect x="444.45" y="434.16" width="4" height="64.79" fill="#fff" stroke="#333" stroke-width="0.9"/>
<rect x="448.9" y="431.66" width="4.9" height="66.84" fill="#000"/>
<rect x="449.55" y="432.76" width="3.75" height="3" fill="#fff"/>
<rect x="449.55" y="438.11" width="3.75" height="3" fill="#fff"/>
<rect x="449.55" y="443.46" width="3.75" height="3" fill="#fff"/>
<rect x="449.55" y="448.81" width="3.75" height="3" fill="#fff"/>
<rect x="449.55" y="454.16" width="3.75" height="3" fill="#fff"/>
<rect x="449.55" y="459.51" width="3.75" height="3" fill="#fff"/>
<rect x="449.55" y="464.86" width="3.75" height="3" fill="#fff"/>
<rect x="449.55" y="470.21" width="3.75" height="3" fill="#fff"/>
<rect x="449.55" y="475.56" width="3.75" height="3" fill="#fff"/>
<rect x="449.55" y="480.91" width="3.75" height="3" fill="#fff"/>
<rect x="449.55" y="486.26" width="3.75" height="3" fill="#fff"/>
<rect x="449.55" y="491.61" width="3.75" height="3" fill="#fff"/>
<rect x="449.55" y="496.96" width="3.75" height="0.74" fill="#fff"/>
<rect x="453.8" y="429.74" width="4.9" height="68.76" fill="#000"/>
<rect x="458.95" y="438.68" width="4.4" height="60.07" fill="url(#chk)" stroke="#333" stroke-width="0.5"/>
<rect x="463.9" y="401.67" width="4.3" height="97.13" fill="url(#hat)" stroke="#222" stroke-width="0.6"/>
<rect x="468.95" y="406.93" width="4" height="92.02" fill="#cfcfcf" stroke="#333" stroke-width="0.9"/>
<rect x="483.41" y="415.88" width="4" height="83.07" fill="#fff" stroke="#333" stroke-width="0.9"/>
<rect x="487.86" y="424.38" width="4.9" height="74.12" fill="#000"/>
<rect x="488.51" y="425.48" width="3.75" height="3" fill="#fff"/>
<rect x="488.51" y="430.83" width="3.75" height="3" fill="#fff"/>
<rect x="488.51" y="436.18" width="3.75" height="3" fill="#fff"/>
<rect x="488.51" y="441.53" width="3.75" height="3" fill="#fff"/>
<rect x="488.51" y="446.88" width="3.75" height="3" fill="#fff"/>
<rect x="488.51" y="452.23" width="3.75" height="3" fill="#fff"/>
<rect x="488.51" y="457.58" width="3.75" height="3" fill="#fff"/>
<rect x="488.51" y="462.93" width="3.75" height="3" fill="#fff"/>
<rect x="488.51" y="468.28" width="3.75" height="3" fill="#fff"/>
<rect x="488.51" y="473.63" width="3.75" height="3" fill="#fff"/>
<rect x="488.51" y="478.98" width="3.75" height="3" fill="#fff"/>
<rect x="488.51" y="484.33" width="3.75" height="3" fill="#fff"/>
<rect x="488.51" y="489.68" width="3.75" height="3" fill="#fff"/>
<rect x="488.51" y="495.03" width="3.75" height="2.67" fill="#fff"/>
<rect x="492.76" y="403.93" width="4.9" height="94.57" fill="#000"/>
<rect x="497.91" y="409.55" width="4.4" height="89.2" fill="url(#chk)" stroke="#333" stroke-width="0.5"/>
<rect x="502.86" y="380.46" width="4.3" height="118.34" fill="url(#hat)" stroke="#222" stroke-width="0.6"/>
<rect x="507.91" y="384.44" width="4" height="114.51" fill="#cfcfcf" stroke="#333" stroke-width="0.9"/>
<path d="M49.6 357.5H517V498.5" fill="none" stroke="#111" stroke-width="1.3"/>
<path d="M49.6 357.5V498.5H517" fill="none" stroke="#111" stroke-width="1.4"/>
<line x1="45.3" y1="498.5" x2="49.6" y2="498.5" stroke="#111" stroke-width="1.2"/>
<text x="44.1" y="502.2" text-anchor="end" font-size="10.2">0</text>
<line x1="45.3" y1="472.94" x2="49.6" y2="472.94" stroke="#111" stroke-width="1.2"/>
<text x="44.1" y="476.64" text-anchor="end" font-size="10.2">20</text>
<line x1="45.3" y1="447.38" x2="49.6" y2="447.38" stroke="#111" stroke-width="1.2"/>
<text x="44.1" y="451.08" text-anchor="end" font-size="10.2">40</text>
<line x1="45.3" y1="421.82" x2="49.6" y2="421.82" stroke="#111" stroke-width="1.2"/>
<text x="44.1" y="425.52" text-anchor="end" font-size="10.2">60</text>
<line x1="45.3" y1="396.26" x2="49.6" y2="396.26" stroke="#111" stroke-width="1.2"/>
<text x="44.1" y="399.96" text-anchor="end" font-size="10.2">80</text>
<line x1="45.3" y1="370.7" x2="49.6" y2="370.7" stroke="#111" stroke-width="1.2"/>
<text x="44.1" y="374.4" text-anchor="end" font-size="10.2">100</text>
<line x1="68.8" y1="498.5" x2="68.8" y2="502.5" stroke="#111" stroke-width="1.2"/>
<text x="68.8" y="512.7" text-anchor="middle" font-size="10.8">16</text>
<line x1="107.76" y1="498.5" x2="107.76" y2="502.5" stroke="#111" stroke-width="1.2"/>
<text x="107.76" y="512.7" text-anchor="middle" font-size="10.8">17</text>
<line x1="146.72" y1="498.5" x2="146.72" y2="502.5" stroke="#111" stroke-width="1.2"/>
<text x="146.72" y="512.7" text-anchor="middle" font-size="10.8">18</text>
<line x1="185.68" y1="498.5" x2="185.68" y2="502.5" stroke="#111" stroke-width="1.2"/>
<text x="185.68" y="512.7" text-anchor="middle" font-size="10.8">19</text>
<line x1="224.64" y1="498.5" x2="224.64" y2="502.5" stroke="#111" stroke-width="1.2"/>
<text x="224.64" y="512.7" text-anchor="middle" font-size="10.8">20</text>
<line x1="263.6" y1="498.5" x2="263.6" y2="502.5" stroke="#111" stroke-width="1.2"/>
<text x="263.6" y="512.7" text-anchor="middle" font-size="10.8">21</text>
<line x1="302.56" y1="498.5" x2="302.56" y2="502.5" stroke="#111" stroke-width="1.2"/>
<text x="302.56" y="512.7" text-anchor="middle" font-size="10.8">23</text>
<line x1="341.52" y1="498.5" x2="341.52" y2="502.5" stroke="#111" stroke-width="1.2"/>
<text x="341.52" y="512.7" text-anchor="middle" font-size="10.8">24</text>
<line x1="380.48" y1="498.5" x2="380.48" y2="502.5" stroke="#111" stroke-width="1.2"/>
<text x="380.48" y="512.7" text-anchor="middle" font-size="10.8">30</text>
<line x1="419.44" y1="498.5" x2="419.44" y2="502.5" stroke="#111" stroke-width="1.2"/>
<text x="419.44" y="512.7" text-anchor="middle" font-size="10.8">29</text>
<line x1="458.4" y1="498.5" x2="458.4" y2="502.5" stroke="#111" stroke-width="1.2"/>
<text x="458.4" y="512.7" text-anchor="middle" font-size="10.8">28</text>
<line x1="497.36" y1="498.5" x2="497.36" y2="502.5" stroke="#111" stroke-width="1.2"/>
<text x="497.36" y="512.7" text-anchor="middle" font-size="10.8">27</text>
<rect x="73.05" y="364.65" width="14.9" height="7.4" fill="#fff" stroke="#444" stroke-width="0.9"/>
<text x="96.5" y="371.9" font-size="11.7">C</text>
<rect x="142.75" y="364.65" width="14.9" height="7.4" fill="#fff" stroke="#333" stroke-width="0.9"/>
<rect x="142.3" y="367.15" width="15.8" height="2.4" fill="#000"/>
<text x="166.3" y="371.4" font-size="11.7">CF</text>
<rect x="213.8" y="364.2" width="15.8" height="8.3" fill="#000"/>
<text x="237.6" y="371.7" font-size="11.7">CM</text>
<rect x="300.6" y="365.3" width="15" height="7.5" fill="url(#chk)" stroke="#333" stroke-width="0.8"/>
<text x="323.7" y="372.2" font-size="11.7">CMF</text>
<rect x="387.9" y="365.6" width="15" height="7.5" fill="url(#hat)" stroke="#333" stroke-width="0.8"/>
<text x="411.3" y="373" font-size="11.7">CN</text>
<rect x="446.65" y="365.95" width="14.9" height="7.4" fill="#cfcfcf" stroke="#444" stroke-width="0.9"/>
<text x="470.1" y="372.9" font-size="11.7">CNF</text>
<text transform="translate(19.9 428) rotate(-90)" text-anchor="middle" font-size="11.4">Viable cells, %</text>
<text transform="translate(1 358.5) scale(0.93 1)" font-size="20" font-weight="bold">D</text>
<text x="275.5" y="346" text-anchor="middle" font-size="11.6">Patient #</text>
</svg>
</body></html>
